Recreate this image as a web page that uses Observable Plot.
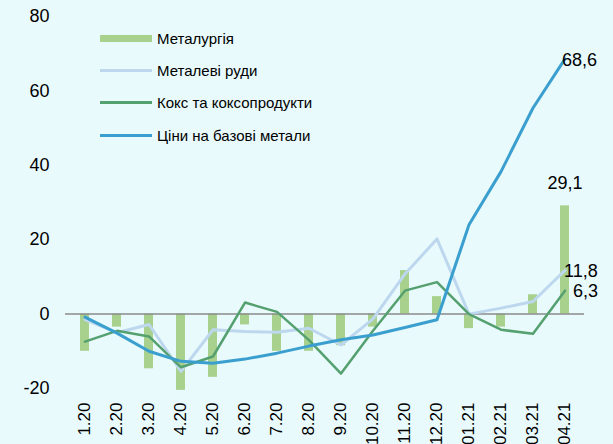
<!DOCTYPE html>
<html>
<head>
<meta charset="utf-8">
<script src="https://cdn.jsdelivr.net/npm/d3@7"></script>
<script src="https://cdn.jsdelivr.net/npm/@observablehq/plot@0.6"></script>
<style>
  html, body { margin: 0; padding: 0; background: #e8fafc; }
  #wrap { position: relative; width: 613px; height: 444px; overflow: hidden; font-family: Arial, "Liberation Sans", sans-serif; }
  #legend { position: absolute; left: 100px; top: 22px; font-size: 15px; color: #000; }
  #legend .row { display: flex; align-items: center; height: 32.3px; }
  #legend .sw { width: 52px; margin-right: 5px; }
</style>
</head>
<body>
<div id="wrap">
  <div id="chart"></div>
  <div id="legend"></div>
</div>
<script>
const categories = ["1.20","2.20","3.20","4.20","5.20","6.20","7.20","8.20","9.20","10.20","11.20","12.20","01.21","02.21","03.21","04.21"];
const seriesNames = ["Металургія", "Металеві руди", "Кокс та коксопродукти", "Ціни на базові метали"];
const metallurgy = [-10.0, -3.5, -14.7, -20.5, -17.0, -2.9, -10.0, -10.0, -8.5, -3.5, 11.7, 4.7, -3.9, -3.5, 5.2, 29.1];
const ores = [-1.5, -5.0, -2.8, -15.4, -4.2, -4.7, -4.9, -3.8, -8.3, -1.3, 10.8, 20.2, 0.0, 1.6, 3.4, 11.8];
const coke = [-7.4, -4.5, -6.0, -14.3, -11.4, 3.1, 0.6, -7.0, -16.0, -4.5, 6.3, 8.6, 0.0, -4.2, -5.3, 6.3];
const basePrices = [-0.8, -5.1, -10.0, -12.7, -13.2, -12.1, -10.5, -8.6, -6.9, -5.6, -3.6, -1.5, 24.0, 38.3, 55.4, 68.6];
const yTicks = [-20, 0, 20, 40, 60, 80];

const colors = ["#a9d18e", "#bdd7ee", "#55a06f", "#3a9fcf"];

const toRows = (vals) => categories.map((c, i) => ({cat: c, v: vals[i]}));
const barData = toRows(metallurgy);
const oreData = toRows(ores);
const cokeData = toRows(coke);
const priceData = toRows(basePrices);
const fmt = (v) => String(v.toFixed(1)).replace(".", ",");
const last = (rows) => [rows[rows.length - 1]];

const font = 'Arial, "Liberation Sans", sans-serif';

const chart = Plot.plot({
  width: 613,
  height: 444,
  marginLeft: 65,
  marginRight: 29,
  marginTop: 16,
  marginBottom: 56,
  style: {background: "transparent", fontFamily: font, color: "#000"},
  x: {domain: categories, type: "band", paddingInner: 0.72, paddingOuter: 0.36},
  y: {domain: [-20, 80]},
  marks: [
    Plot.barY(barData, {x: "cat", y: "v", fill: colors[0]}),
    Plot.ruleY([0], {stroke: "#8a8a8a", strokeWidth: 1.5}),
    Plot.line(oreData, {x: "cat", y: "v", stroke: colors[1], strokeWidth: 3}),
    Plot.line(cokeData, {x: "cat", y: "v", stroke: colors[2], strokeWidth: 2.5}),
    Plot.line(priceData, {x: "cat", y: "v", stroke: colors[3], strokeWidth: 3}),
    Plot.text(last(barData), {x: "cat", y: "v", text: d => fmt(d.v), dy: -23, fontSize: 18, fill: "#000"}),
    Plot.text(last(priceData), {x: "cat", y: "v", text: d => fmt(d.v), textAnchor: "start", dx: -3, dy: 1, fontSize: 18, fill: "#000"}),
    Plot.text(last(oreData), {x: "cat", y: "v", text: d => fmt(d.v), textAnchor: "start", dx: -1, dy: 1, fontSize: 18, fill: "#000"}),
    Plot.text(last(cokeData), {x: "cat", y: "v", text: d => fmt(d.v), textAnchor: "start", dx: 8, dy: 1, fontSize: 18, fill: "#000"}),
    Plot.axisY({ticks: yTicks, tickSize: 0, tickPadding: 16, line: true, stroke: "#8a8a8a", fill: "#000", fontSize: 18, label: null, tickFormat: d => String(d)}),
    Plot.axisX({tickSize: 0, tickPadding: 14, tickRotate: -90, fill: "#000", fontSize: 17, label: null})
  ]
});
document.getElementById("chart").appendChild(chart);

const legend = document.getElementById("legend");
seriesNames.forEach((name, i) => {
  const row = document.createElement("div");
  row.className = "row";
  const sw = document.createElement("div");
  sw.className = "sw";
  sw.style.background = colors[i];
  sw.style.height = i === 0 ? "7px" : "3px";
  const t = document.createElement("span");
  t.textContent = name;
  row.appendChild(sw);
  row.appendChild(t);
  legend.appendChild(row);
});
</script>
</body>
</html>
